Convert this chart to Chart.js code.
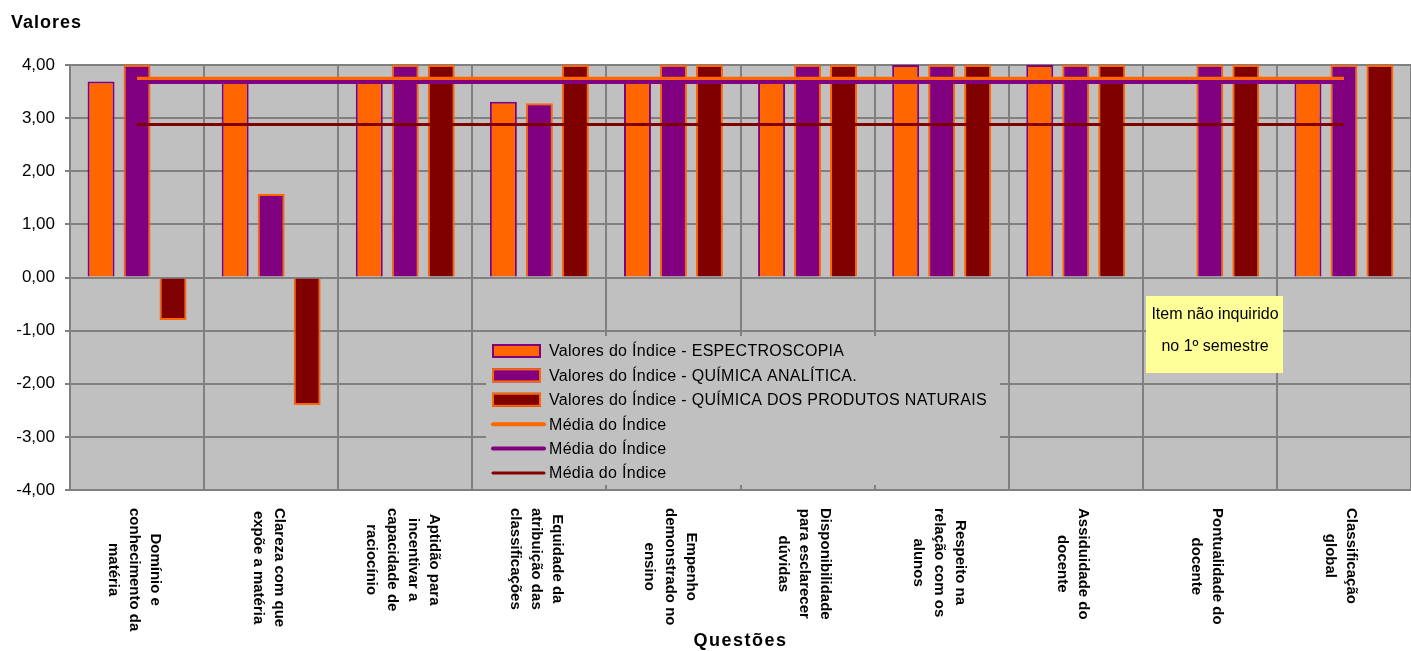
<!DOCTYPE html>
<html>
<head>
<meta charset="utf-8">
<script src="https://cdn.jsdelivr.net/npm/chart.js@4.4.1/dist/chart.umd.min.js"></script>
<style>
  html, body { margin: 0; padding: 0; background: #fff; }
  #wrap { width: 1411px; height: 651px; }
</style>
</head>
<body>
<div id="wrap"><canvas id="indiceChart" width="1411" height="651"></canvas></div>
<script>
// categorias (questões), uma linha de texto por entrada
const questoes = [
    ['Domínio e', 'conhecimento da', 'matéria'],
    ['Clareza com que', 'expõe a matéria'],
    ['Aptidão para', 'incentivar a', 'capacidade de', 'raciocínio'],
    ['Equidade da', 'atribuição das', 'classificações'],
    ['Empenho', 'demonstrado no', 'ensino'],
    ['Disponibilidade', 'para esclarecer', 'dúvidas'],
    ['Respeito na', 'relação com os', 'alunos'],
    ['Assiduidade do', 'docente'],
    ['Pontualidade do', 'docente'],
    ['Classificação', 'global']
];

const espectroscopia = [3.69, 3.68, 3.70, 3.31, 3.70, 3.70, 4.00, 4.00, null, 3.70];
const quimicaAnalitica = [4.00, 1.57, 4.00, 3.28, 4.00, 4.00, 4.00, 4.00, 4.00, 4.00];
const produtosNaturais = [-0.80, -2.40, 4.00, 4.00, 4.00, 4.00, 4.00, 4.00, 4.00, 4.00];

const mediaEspectroscopia = 3.74;
const mediaAnalitica = 3.68;
const mediaNaturais = 2.88;

const yTicks = [-4, -3, -2, -1, 0, 1, 2, 3, 4];

const seriesNames = [
    'Valores do Índice - ESPECTROSCOPIA',
    'Valores do Índice - QUÍMICA ANALÍTICA.',
    'Valores do Índice - QUÍMICA DOS PRODUTOS NATURAIS',
    'Média do Índice',
    'Média do Índice',
    'Média do Índice'
];

const ORANGE = '#FF6600';
const PURPLE = '#800080';
const DARKRED = '#800000';
const GREY = '#C0C0C0';
const GRID = '#808080';
const FONT = "'Liberation Sans', Arial, sans-serif";

const flat = (v) => questoes.map(() => v);

// fundo cinzento da área do gráfico
const plotBg = {
    id: 'plotBg',
    beforeDraw(chart) {
        const { ctx, chartArea: a } = chart;
        ctx.save();
        ctx.fillStyle = GREY;
        ctx.fillRect(a.left, a.top, a.right - a.left, a.bottom - a.top);
        ctx.restore();
    }
};

// rótulos das categorias rodados, legenda, nota e títulos
const extras = {
    id: 'extras',
    afterDraw(chart) {
        const { ctx } = chart;
        const xs = chart.scales.x;

        ctx.save();
        // rótulos do eixo x (lidos de cima para baixo)
        ctx.font = 'bold 15px ' + FONT;
        ctx.fillStyle = '#000';
        ctx.textAlign = 'center';
        ctx.textBaseline = 'middle';
        const pitch = 21;
        questoes.forEach((lines, i) => {
            const x = xs.getPixelForValue(i) - 3;
            const longest = Math.max(...lines.map(l => ctx.measureText(l).width));
            ctx.save();
            ctx.translate(x, 508);
            ctx.rotate(Math.PI / 2);
            lines.forEach((l, j) => {
                ctx.fillText(l, longest / 2, (j - (lines.length - 1) / 2) * pitch);
            });
            ctx.restore();
        });

        // títulos
        ctx.letterSpacing = '1px';
        ctx.font = 'bold 18px ' + FONT;
        ctx.textAlign = 'left';
        ctx.textBaseline = 'alphabetic';
        ctx.fillText('Valores', 11, 28);
        ctx.letterSpacing = '1.5px';
        ctx.textAlign = 'center';
        ctx.fillText('Questões', (chart.chartArea.left + chart.chartArea.right) / 2, 646);

        // legenda
        ctx.fillStyle = GREY;
        ctx.fillRect(486, 336, 514, 149);
        ctx.letterSpacing = '0.3px';
        ctx.font = '16px ' + FONT;
        ctx.textAlign = 'left';
        ctx.textBaseline = 'middle';
        chart.data.datasets.forEach((ds, i) => {
            const cy = 351 + i * 24.4;
            if (ds.type === 'line') {
                ctx.strokeStyle = ds.borderColor;
                ctx.lineWidth = ds.borderWidth;
                ctx.lineCap = 'round';
                ctx.beginPath();
                ctx.moveTo(493, cy);
                ctx.lineTo(544, cy);
                ctx.stroke();
            } else {
                ctx.fillStyle = ds.backgroundColor;
                ctx.fillRect(492, cy - 7, 49, 14);
                ctx.strokeStyle = ds.borderColor;
                ctx.lineWidth = 2;
                ctx.strokeRect(493, cy - 6, 47, 12);
            }
            ctx.fillStyle = '#000';
            ctx.fillText(ds.label, 549, cy + 1);
        });

        // nota amarela
        ctx.letterSpacing = '0px';
        ctx.fillStyle = '#FFFF99';
        ctx.fillRect(1146, 296, 137, 77);
        ctx.fillStyle = '#000';
        ctx.textAlign = 'center';
        ctx.fillText('Item não inquirido', 1215, 315);
        ctx.fillText('no 1º semestre', 1215, 347);
        ctx.restore();
    }
};

const ctx = document.getElementById('indiceChart').getContext('2d');
new Chart(ctx, {
    data: {
        labels: questoes.map(q => q.join(' ')),
        datasets: [
            { type: 'bar', label: seriesNames[0], data: espectroscopia, backgroundColor: ORANGE, borderColor: PURPLE, borderWidth: 2, order: 10 },
            { type: 'bar', label: seriesNames[1], data: quimicaAnalitica, backgroundColor: PURPLE, borderColor: ORANGE, borderWidth: 2, order: 10 },
            { type: 'bar', label: seriesNames[2], data: produtosNaturais, backgroundColor: DARKRED, borderColor: ORANGE, borderWidth: 2, order: 10 },
            { type: 'line', label: seriesNames[3], data: flat(mediaEspectroscopia), borderColor: ORANGE, backgroundColor: ORANGE, borderWidth: 4, pointRadius: 0, order: 3 },
            { type: 'line', label: seriesNames[4], data: flat(mediaAnalitica), borderColor: PURPLE, backgroundColor: PURPLE, borderWidth: 4, pointRadius: 0, order: 2 },
            { type: 'line', label: seriesNames[5], data: flat(mediaNaturais), borderColor: DARKRED, backgroundColor: DARKRED, borderWidth: 3, pointRadius: 0, order: 1 }
        ]
    },
    options: {
        responsive: false,
        animation: false,
        devicePixelRatio: 1,
        layout: {
            padding: { top: 65, right: 0, bottom: 0, left: 0 }
        },
        datasets: {
            bar: { categoryPercentage: 0.805, barPercentage: 0.75 }
        },
        scales: {
            x: {
                offset: true,
                afterFit: (s) => { s.height = 161; },
                ticks: { display: false },
                grid: { color: GRID, lineWidth: 2, drawTicks: false, offset: true },
                border: { color: GRID, width: 2 }
            },
            y: {
                min: -4,
                max: 4,
                afterFit: (s) => { s.width = 70; },
                afterBuildTicks: (s) => { s.ticks = yTicks.map(v => ({ value: v })); },
                ticks: {
                    color: '#000',
                    padding: 10,
                    font: { family: FONT, size: 17 },
                    callback: (v) => Number(v).toFixed(2).replace('.', ',')
                },
                grid: { color: GRID, lineWidth: 2, tickLength: 5, tickColor: GRID },
                border: { color: GRID, width: 2 }
            }
        },
        plugins: {
            legend: { display: false },
            tooltip: { enabled: false }
        }
    },
    plugins: [plotBg, extras]
});
</script>
</body>
</html>
